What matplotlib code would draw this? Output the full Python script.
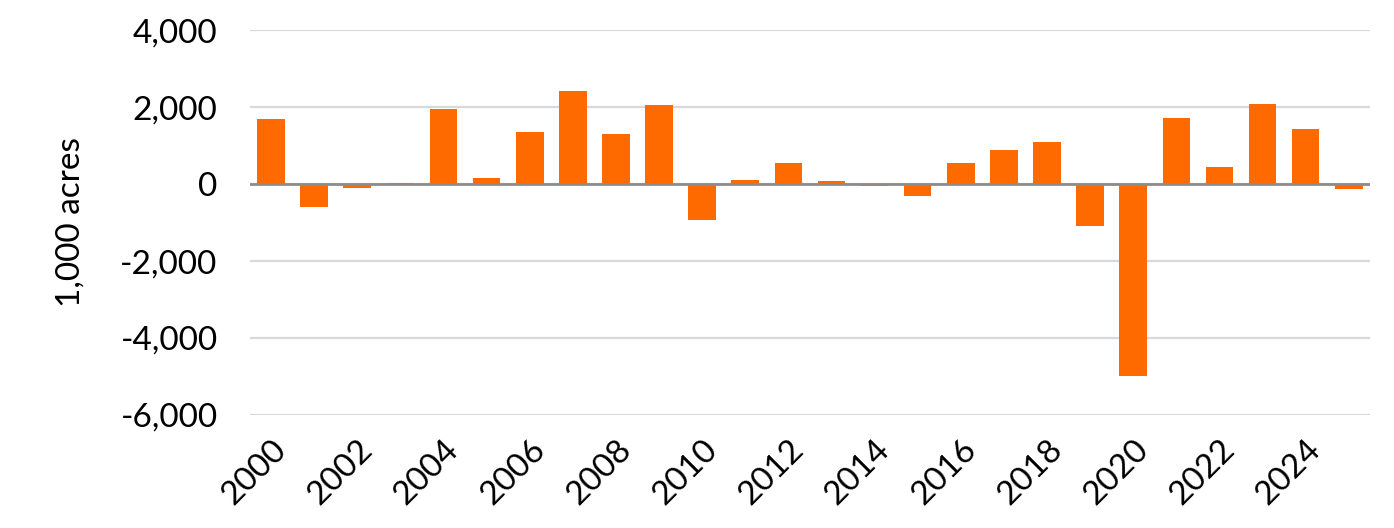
import matplotlib.pyplot as plt
import numpy as np

years = list(range(2000, 2026))
changes = [1690, -590, -100, 35, 1950, 165, 1350, 2430, 1310, 2050,
           -940, 95, 540, 78, -52, -305, 540, 877, 1085, -1100,
           -4990, 1710, 434, 2083, 1432, -122]
yticks = [-6000, -4000, -2000, 0, 2000, 4000]

plt.rcParams["font.family"] = ["Lato", "DejaVu Sans"]

fig = plt.figure(figsize=(13.94, 5.28), dpi=100)
ax = fig.add_axes([0.179, 0.214, 0.804, 0.729])

x = np.arange(len(years))
ax.bar(x, changes, width=0.64, color="#FF6A00", zorder=3)
ax.axhline(0, color="#8c8c8c", linewidth=2, zorder=4)

ax.set_ylim(-6000, 4000)
ax.set_xlim(-0.5, len(years) - 0.5)
ax.set_yticks(yticks)
ax.set_yticklabels([f"{v:,}" for v in yticks], fontsize=24)
ax.yaxis.grid(True, color="#d9d9d9", linewidth=1.6, zorder=0)
ax.set_axisbelow(True)

ax.set_xticks(x[::2])
ax.set_xticklabels([str(y) for y in years[::2]], fontsize=24, rotation=45,
                   ha="right", rotation_mode="anchor")
ax.tick_params(axis="both", length=0)
ax.tick_params(axis="x", pad=14)
ax.tick_params(axis="y", pad=23)

for s in ax.spines.values():
    s.set_visible(False)

ax.set_ylabel("1,000 acres", fontsize=24, labelpad=25)

fig.savefig("out.png", dpi=100)
